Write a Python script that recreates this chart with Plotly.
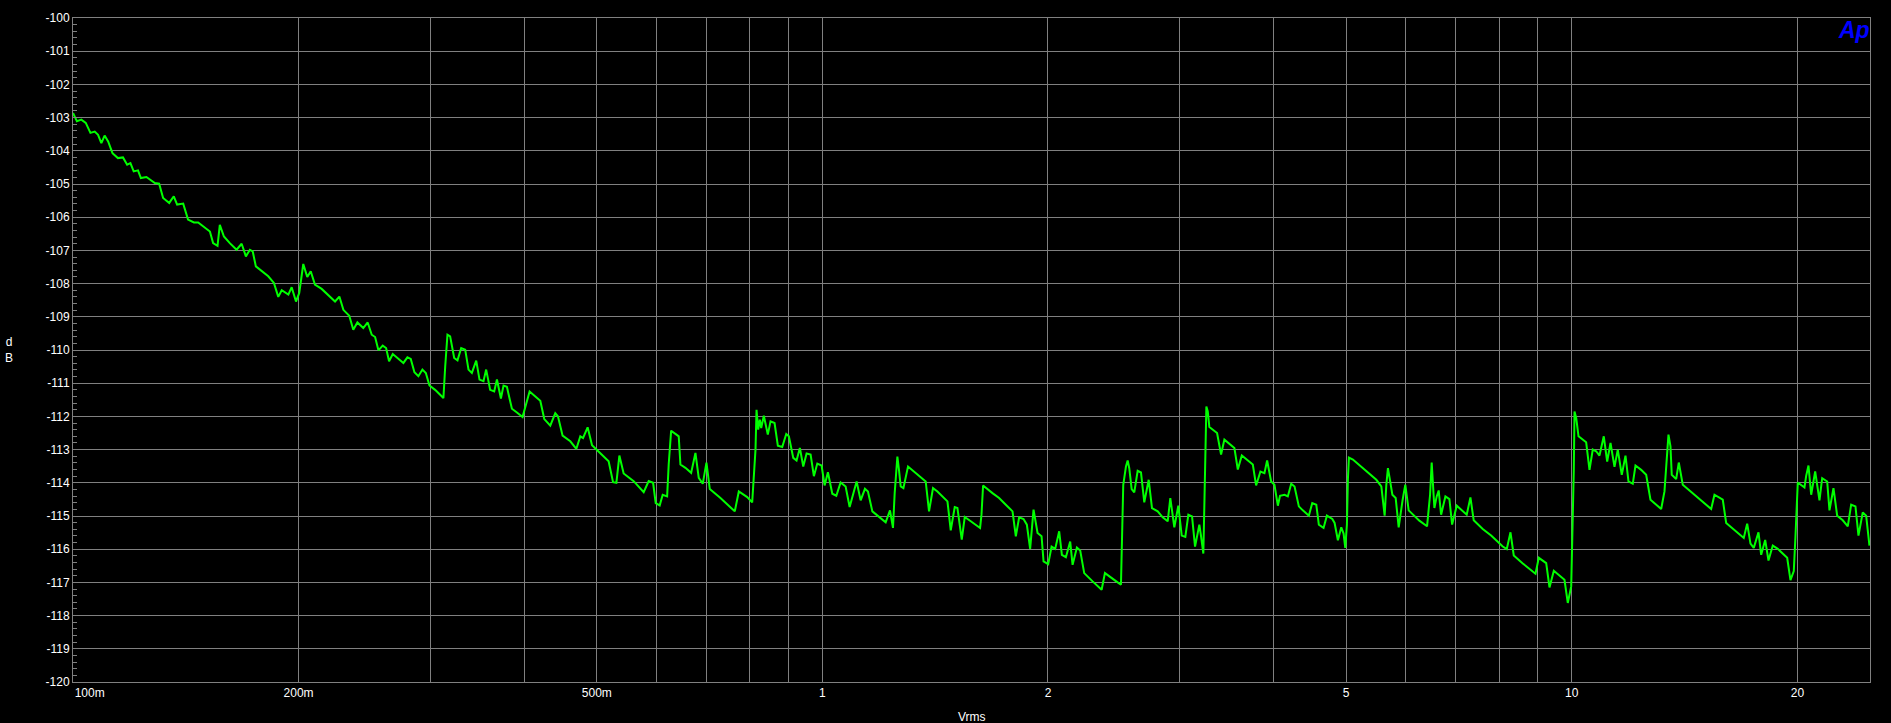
import math
import plotly.graph_objects as go

# ---- data (Vrms vs dB) ----
vrms = [
    0.1000, 0.1012, 0.1026, 0.1040, 0.1055, 0.1069, 0.1080, 0.1091, 0.1102, 0.1114,
    0.1129, 0.1148, 0.1166, 0.1181, 0.1193, 0.1205, 0.1221, 0.1232, 0.1253, 0.1286,
    0.1303, 0.1319, 0.1344, 0.1363, 0.1377, 0.1403, 0.1424, 0.1450, 0.1469, 0.1500,
    0.1523, 0.1538, 0.1559, 0.1570, 0.1590, 0.1619, 0.1653, 0.1679, 0.1701, 0.1722,
    0.1737, 0.1754, 0.1785, 0.1822, 0.1854, 0.1879, 0.1899, 0.1938, 0.1958, 0.1984,
    0.2004, 0.2029, 0.2054, 0.2076, 0.2103, 0.2147, 0.2237, 0.2267, 0.2295, 0.2337,
    0.2366, 0.2396, 0.2440, 0.2473, 0.2504, 0.2530, 0.2556,
    0.2590, 0.2617, 0.2641, 0.2671, 0.2718, 0.2760, 0.2794, 0.2823, 0.2855, 0.2890,
    0.2926, 0.2957, 0.2990, 0.3042, 0.3090, 0.3121, 0.3138, 0.3160, 0.3186, 0.3226,
    0.3259, 0.3296, 0.3337, 0.3371, 0.3406, 0.3452, 0.3487, 0.3530, 0.3559, 0.3603,
    0.3648, 0.3679, 0.3724, 0.3754, 0.3793, 0.3852, 0.3912, 0.3980, 0.4067, 0.4117,
    0.4203, 0.4255, 0.4334, 0.4401, 0.4438, 0.4501, 0.4609, 0.4695, 0.4753, 0.4793,
    0.4861, 0.4927, 0.5055, 0.5185, 0.5256, 0.5310, 0.5359, 0.5430, 0.5600, 0.5775,
    0.5864, 0.5944, 0.5992, 0.6066, 0.6122, 0.6206, 0.6236, 0.6283, 0.6386, 0.6431,
    0.6465, 0.6565, 0.6681, 0.6770, 0.6839, 0.6924, 0.7003, 0.7075, 0.7311, 0.7640,
    0.7735, 0.7937, 0.8060, 0.8100, 0.8142, 0.8168, 0.8210, 0.8251, 0.8286, 0.8353,
    0.8456, 0.8527, 0.8633, 0.8721, 0.8839, 0.8949, 0.9021, 0.9144, 0.9237, 0.9331,
    0.9429, 0.9526, 0.9644, 0.9742, 0.9844, 0.9975, 1.0068, 1.0171, 1.0309, 1.0437,
    1.0576, 1.0740, 1.0873, 1.1109, 1.1247, 1.1397, 1.1502, 1.1659, 1.2146, 1.2308,
    1.2422, 1.2487, 1.2591, 1.2653, 1.2720, 1.2826, 1.3009, 1.3736, 1.3877, 1.4048,
    1.4240, 1.4685, 1.4835, 1.5018, 1.5143, 1.5345, 1.5487, 1.5776, 1.6021, 1.6234,
    1.6304, 1.6384,
    1.6864, 1.7211, 1.7569, 1.7935, 1.8118, 1.8303, 1.8553, 1.8742, 1.8933, 1.9132,
    1.9369, 1.9609, 1.9730, 2.0011, 2.0222, 2.0447, 2.0700, 2.0873, 2.1131, 2.1412,
    2.1571, 2.1858, 2.2081, 2.2355, 2.2940, 2.3584, 2.3825, 2.4268, 2.4774, 2.5027,
    2.5081, 2.5204, 2.5414, 2.5548, 2.5674, 2.5864, 2.6072, 2.6346, 2.6615, 2.6886,
    2.7253, 2.7531, 2.8018, 2.8452, 2.8893, 2.9125, 2.9486, 2.9851, 3.0165, 3.0501,
    3.0784, 3.1136, 3.1425, 3.1843, 3.2010, 3.2237, 3.2337, 3.2436, 3.2536, 3.2677,
    3.2838, 3.3625, 3.4041, 3.4389, 3.5463, 3.5836, 3.6279, 3.7528, 3.7911, 3.8416,
    3.8892, 3.9216, 3.9702, 4.0107, 4.0529, 4.0800,
    4.137, 4.179, 4.223, 4.266, 4.323, 4.376, 4.458, 4.505, 4.561, 4.597,
    4.664, 4.712, 4.791, 4.825, 4.874, 4.925, 4.960, 4.986, 5.011, 5.026,
    5.042, 5.104, 5.319, 5.485, 5.570, 5.627, 5.656, 5.684, 5.714, 5.762,
    5.821, 5.875, 5.947, 5.996, 6.058, 6.146, 6.260, 6.410, 6.442, 6.470,
    6.502, 6.522, 6.556, 6.603, 6.643, 6.693, 6.782, 6.866, 6.923, 7.022,
    7.152, 7.241, 7.324, 7.398, 7.606, 7.805, 8.089, 8.189, 8.283, 8.367,
    8.602, 8.945, 9.036, 9.244, 9.338, 9.463, 9.778, 9.878, 9.982, 10.031,
    10.062, 10.084, 10.137, 10.209,
    10.344, 10.452, 10.559, 10.666, 10.778, 10.888, 11.033, 11.149, 11.263, 11.402,
    11.518, 11.660, 11.794, 11.903, 12.061, 12.162, 12.376, 12.568, 12.735, 13.161,
    13.295, 13.406, 13.459, 13.542, 13.596, 13.781, 13.892, 14.063, 14.356, 14.727,
    15.033, 15.346, 15.502, 15.903, 16.070, 16.399, 16.963, 17.141, 17.316, 17.492,
    17.747, 17.895, 18.116, 18.301, 18.544, 18.831, 19.383, 19.580, 19.780, 19.883,
    19.963, 20.025, 20.441, 20.548, 20.694, 20.866, 21.124, 21.405, 21.583, 21.917,
    22.073, 22.346, 22.601, 22.993, 23.349, 23.594, 23.908, 24.129, 24.450, 24.707,
    24.958,
]

db = [
    -102.86, -103.11, -103.06, -103.16, -103.46, -103.42, -103.52, -103.77, -103.54, -103.72,
    -104.07, -104.22, -104.20, -104.42, -104.37, -104.62, -104.59, -104.82, -104.79, -104.97,
    -104.99, -105.42, -105.57, -105.37, -105.62, -105.59, -106.07, -106.16, -106.16, -106.33,
    -106.43, -106.78, -106.86, -106.23, -106.58, -106.78, -106.98, -106.80, -107.18, -106.98,
    -107.03, -107.48, -107.63, -107.78, -107.98, -108.40, -108.20, -108.33, -108.11, -108.54,
    -108.28, -107.41, -107.80, -107.63, -108.03, -108.16, -108.54, -108.39, -108.79, -108.97,
    -109.39, -109.17, -109.34, -109.17, -109.54, -109.61, -110.01,
    -109.87, -109.94, -110.34, -110.12, -110.27, -110.39, -110.22, -110.27, -110.67, -110.79,
    -110.59, -110.69, -111.07, -111.20, -111.35, -111.45, -110.50, -109.54, -109.59, -110.24,
    -110.31, -109.94, -109.99, -110.59, -110.69, -110.32, -110.89, -110.94, -110.59, -111.20,
    -111.25, -110.89, -111.46, -111.07, -111.11, -111.77, -111.88, -112.02, -111.25, -111.35,
    -111.53, -112.08, -112.28, -111.90, -112.00, -112.58, -112.75, -112.98, -112.60, -112.65,
    -112.33, -112.87, -113.10, -113.35, -113.98, -114.00, -113.18, -113.72, -113.95, -114.28,
    -113.95, -114.00, -114.61, -114.68, -114.36, -114.41, -113.45, -112.43, -112.55, -112.60,
    -113.45, -113.55, -113.70, -113.10, -113.85, -114.03, -113.39, -114.19, -114.46, -114.86,
    -114.26, -114.43, -114.59, -113.91, -113.00, -111.80, -112.40, -112.10, -112.35, -111.98,
    -112.55, -112.15, -112.20, -112.88, -112.92, -112.53, -112.60, -113.25, -113.33, -112.95,
    -113.51, -113.12, -113.15, -113.80, -113.42, -113.48, -114.08, -113.68, -114.33, -114.39,
    -113.99, -114.11, -114.73, -113.96, -114.53, -114.18, -114.26, -114.86, -115.19, -114.83,
    -115.36, -114.31, -113.21, -113.61, -114.11, -114.16, -113.51, -113.96, -114.86, -114.16,
    -114.26, -114.56, -115.43, -114.73, -114.76, -115.71, -115.03, -115.16, -115.26, -115.36,
    -114.96, -114.08,
    -114.31, -114.46, -114.66, -114.86, -115.61, -115.04, -115.09, -115.26, -115.99, -114.81,
    -115.51, -115.61, -116.37, -116.45, -115.92, -115.99, -115.46, -116.17, -116.24, -115.77,
    -116.47, -115.95, -116.04, -116.72, -116.97, -117.22, -116.72, -116.84, -117.00, -117.07,
    -116.07, -114.06, -113.51, -113.33, -113.56, -114.19, -114.29, -113.64, -113.69, -114.59,
    -113.91, -114.76, -114.86, -115.04, -115.16, -114.46, -115.34, -114.69, -115.59, -115.63,
    -114.96, -115.01, -115.92, -115.26, -115.61, -116.13, -114.66, -113.21, -111.70, -111.85,
    -112.32, -112.50, -113.15, -112.70, -112.95, -113.60, -113.18, -113.45, -114.08, -113.66,
    -113.71, -113.33, -113.96, -114.06, -114.69, -114.39,
    -114.36, -114.41, -114.03, -114.11, -114.71, -114.83, -114.99, -114.61, -114.66, -115.26,
    -115.36, -114.99, -115.09, -115.21, -115.73, -115.34, -115.53, -115.96, -115.26, -113.91,
    -113.24, -113.30, -113.66, -113.91, -114.11, -114.99, -114.06, -113.56, -113.86, -114.36,
    -114.46, -115.34, -114.51, -114.06, -114.83, -114.96, -115.14, -115.31, -114.86, -114.36,
    -113.39, -113.86, -114.76, -114.41, -114.23, -114.96, -114.41, -114.49, -115.26, -114.69,
    -114.86, -114.96, -114.44, -115.13, -115.39, -115.59, -115.92, -116.00, -115.49, -116.19,
    -116.43, -116.74, -116.26, -116.42, -117.15, -116.65, -116.92, -117.62, -117.12, -115.31,
    -113.61, -111.85, -112.05, -112.60,
    -112.70, -112.78, -113.61, -113.00, -113.05, -113.18, -112.60, -113.36, -112.80, -113.52,
    -113.00, -113.76, -113.18, -113.96, -114.03, -113.48, -113.61, -113.76, -114.51, -114.79,
    -114.26, -113.00, -112.55, -112.90, -113.76, -113.89, -113.39, -114.06, -114.23, -114.46,
    -114.61, -114.79, -114.36, -114.51, -115.21, -115.39, -115.66, -115.23, -115.83, -115.96,
    -115.49, -116.17, -115.72, -116.34, -115.89, -115.99, -116.26, -116.93, -116.66, -115.61,
    -114.81, -113.99, -114.14, -113.79, -113.48, -114.36, -113.66, -114.53, -113.86, -113.96,
    -114.83, -114.16, -114.99, -115.13, -115.31, -114.66, -114.71, -115.59, -114.89, -114.99,
    -115.89,
]

# axis ticks / grid
x_grid_vals = [0.1, 0.2, 0.3, 0.4, 0.5, 0.6, 0.7, 0.8, 0.9,
               1, 2, 3, 4, 5, 6, 7, 8, 9, 10, 20]
x_grid_text = ["\u00a0" * 10 + "100m", "200m", "", "", "500m", "", "", "", "",
               "1", "2", "", "", "5", "", "", "", "", "10", "20"]
y_tick_vals = list(range(-120, -99))
y_tick_text = [str(v) for v in y_tick_vals]

x_min, x_max = 0.1, 25
y_min, y_max = -120, -100

GRID = "#808080"
FONT = "Arial, Liberation Sans, sans-serif"

fig = go.Figure()
fig.add_trace(go.Scatter(
    x=vrms, y=db, mode="lines",
    line=dict(color="#00FF00", width=2),
    hoverinfo="skip", showlegend=False,
))

fig.update_layout(
    width=1891, height=723,
    margin=dict(l=73, r=21, t=18, b=41),
    paper_bgcolor="black", plot_bgcolor="black",
    font=dict(family=FONT, size=12, color="white"),
    showlegend=False,
    xaxis=dict(
        type="log", range=[math.log10(x_min), math.log10(x_max)],
        tickmode="array", tickvals=x_grid_vals, ticktext=x_grid_text,
        showgrid=True, gridcolor=GRID, gridwidth=1,
        ticks="", showline=True, linecolor=GRID, linewidth=1, mirror=True,
        zeroline=False, tickfont=dict(family=FONT, size=12, color="white"),
    ),
    yaxis=dict(
        range=[y_min, y_max],
        tickmode="array", tickvals=y_tick_vals, ticktext=y_tick_text,
        showgrid=True, gridcolor=GRID, gridwidth=1,
        ticks="inside", ticklen=4, tickcolor=GRID,
        minor=dict(dtick=0.2, tick0=-120, ticks="inside", ticklen=4,
                   tickcolor=GRID, showgrid=False),
        showline=True, linecolor=GRID, linewidth=1, mirror=True,
        zeroline=False, tickfont=dict(family=FONT, size=12, color="white"),
    ),
    annotations=[
        dict(text="Vrms", xref="paper", yref="paper", x=0.5, y=-0.052,
             xanchor="center", yanchor="middle", showarrow=False,
             font=dict(family=FONT, size=12, color="white")),
        dict(text="d<br>B", xref="paper", yref="paper", x=-0.0356, y=0.5,
             xanchor="center", yanchor="middle", showarrow=False,
             font=dict(family=FONT, size=12, color="white")),
        dict(text="<b><i>Ap</i></b>", xref="paper", yref="paper", x=1.0, y=1.0,
             xanchor="right", yanchor="top", showarrow=False, xshift=2, yshift=3,
             font=dict(family=FONT, size=23, color="#0000FF")),
    ],
)

fig.write_html(
    "out.html",
    config={"displayModeBar": False},
    post_script="document.body.style.margin='0';document.body.style.background='black';"
                "document.documentElement.style.overflow='hidden';",
)
